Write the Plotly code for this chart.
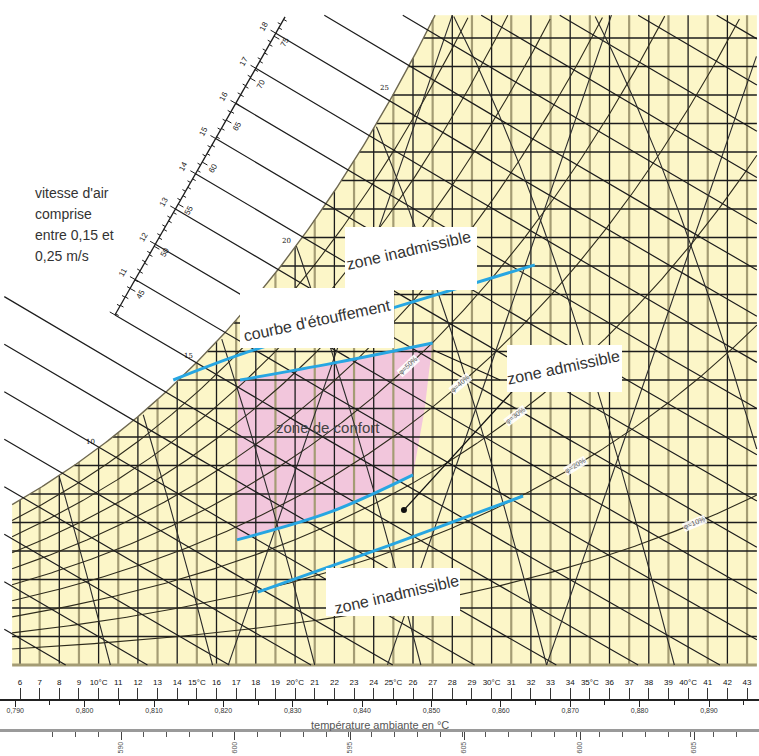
import numpy as np
import plotly.graph_objects as go

# ---------------- data ----------------
T_MIN, T_MAX, W_TOP = 5.6, 43.5, 22.8          # chart frame: °C, g/kg
X_RANGE = [4.982, 43.608]
Y_RANGE = [-3.193, 23.333]
W_PX, H_PX = 759, 756

temp_ticks = list(range(6, 44))
temp_labels = [f"{t}°C" if t % 5 == 0 else str(t) for t in temp_ticks]
volume_ticks = [0.79, 0.80, 0.81, 0.82, 0.83, 0.84, 0.85, 0.86, 0.87, 0.88, 0.89]
volume_labels = ["0,790", "0,800", "0,810", "0,820", "0,830", "0,840",
                 "0,850", "0,860", "0,870", "0,880", "0,890"]
row3_ticks = [11.14, 16.94, 22.8, 28.6, 34.5, 40.3]
row3_labels = ["590", "600", "595", "605", "600", "605"]

rh_levels = [0.1, 0.2, 0.3, 0.4, 0.5, 0.6, 0.7, 0.8, 0.9]
rh_label_levels = [0.5, 0.4, 0.3, 0.2, 0.1]
rh_label_temps = [25.75, 28.4, 31.2, 34.25, 40.35]
sat_label_temps = [10, 15, 20, 25]

enthalpy_kcal = list(range(2, 25))
scale_kj_labels = [45, 50, 55, 60, 65, 70, 75]
scale_kcal_labels = [11, 12, 13, 14, 15, 16, 17, 18]
scale_start = (10.83, 12.28)
scale_end = (19.49, 22.74)

steep_desc_end = [10.6, 15.8, 21.0, 26.4, 32.8, 39.3, 46.5]
steep_asc_top = [28.0, 36.1, 44.2]

etouff_T = [13.8, 17.45, 24.98, 32.2]
etouff_w = [10.0, 10.95, 12.53, 14.04]
conf_top_T = [17.2, 22.0, 27.0]
conf_top_w = [10.0, 10.6, 11.3]
conf_bot_T = [17.04, 21.8, 26.0]
conf_bot_w = [4.39, 5.37, 6.67]
lower_T = [18.1, 24.8, 31.6]
lower_w = [2.56, 4.2, 5.93]
zone_T = [17.1, 22.0, 27.0, 26.8, 26.6, 26.0, 21.8, 17.04]
zone_w = [10.0, 10.6, 11.3, 10.2, 9.0, 6.67, 5.37, 4.39]
dot_T, dot_w = 25.54, 5.44
pointer_a = [(25.54, 5.44), (31.68, 10.07)]
pointer_b = [(27.02, 11.05), (30.43, 10.0)]
speed_note = ["vitesse d'air", "comprise", "entre 0,15 et", "0,25 m/s"]

# ---------------- helpers ----------------
px_T = W_PX / (X_RANGE[1] - X_RANGE[0])
px_w = H_PX / (Y_RANGE[1] - Y_RANGE[0])


def ws(T):
    p = 6.112 * np.exp(17.62 * T / (243.12 + T))
    return 622 * p / (1013.25 - p)


def tdew(w):
    p = w * 1013.25 / (622 + w)
    ln = np.log(p / 6.112)
    return 243.12 * ln / (17.62 - ln)


def h_of(T, w):
    return 1.006 * T + w * (2.501 + 0.00186 * T)


def w_of_h(h, T):
    return (h - 1.006 * T) / (2.501 + 0.00186 * T)


def vol_T(v):
    return v * 101.325 / 0.287 - 273.15


def sat_top_T():
    Ts = np.linspace(20, 35, 3001)
    return float(Ts[np.argmin(np.abs(ws(Ts) - W_TOP))])


T_SAT_TOP = sat_top_T()


def seg_trace(xs, ys, color, width):
    return go.Scatter(x=xs, y=ys, mode="lines", line=dict(color=color, width=width),
                      hoverinfo="skip", showlegend=False)


def join(segments):
    xs, ys = [], []
    for sx, sy in segments:
        xs += list(sx) + [None]
        ys += list(sy) + [None]
    return xs, ys


def pT(px):
    return X_RANGE[0] + px / px_T


def pW(py):
    return Y_RANGE[1] - py / px_w


fig = go.Figure()

# yellow chart area
Tc = np.linspace(T_MIN, T_SAT_TOP, 200)
yx = list(Tc) + [T_MAX, T_MAX, T_MIN]
yy = list(ws(Tc)) + [W_TOP, 0, 0]
fig.add_trace(go.Scatter(x=yx, y=yy, fill="toself", fillcolor="#fcf6c8", mode="none",
                         hoverinfo="skip", showlegend=False))
# comfort zone
fig.add_trace(go.Scatter(x=zone_T, y=zone_w, fill="toself", fillcolor="#f2c6dc", mode="none",
                         hoverinfo="skip", showlegend=False))

# vertical dry-bulb lines
olive, black = [], []
for t in temp_ticks:
    seg = ([t, t], [0, min(ws(t), W_TOP)])
    (olive if t % 2 else black).append(seg)
fig.add_trace(seg_trace(*join(olive), "#a49c74", 2.2))
fig.add_trace(seg_trace(*join(black), "#1c1c1c", 1.3))

# horizontal humidity lines
hs = []
for w in range(1, 23):
    hs.append(([max(tdew(w), T_MIN), T_MAX], [w, w]))
fig.add_trace(seg_trace(*join(hs), "#1c1c1c", 1.3))
fig.add_trace(seg_trace([T_MIN, T_MAX], [0, 0], "#a49c74", 3))

# relative humidity curves
rh = []
for phi in rh_levels:
    T = np.linspace(T_MIN, T_MAX, 300)
    w = phi * ws(T)
    m = w <= W_TOP
    rh.append((T[m], w[m]))
fig.add_trace(seg_trace(*join(rh), "#2e2b1c", 1.1))
# saturation curve
fig.add_trace(seg_trace(Tc, ws(Tc), "#6e6850", 1.4))

# enthalpy lines (1 kcal/kg)
s_grid = np.linspace(0, 1, 2001)
sT = scale_start[0] + s_grid * (scale_end[0] - scale_start[0])
sW = scale_start[1] + s_grid * (scale_end[1] - scale_start[1])
sH = h_of(sT, sW)
en = []
for n in enthalpy_kcal:
    h = n * 4.1868
    if h < sH[0]:
        t0 = T_MIN - 0.4
    elif h > sH[-1]:
        t0 = (h - W_TOP * 2.501) / (1.006 + W_TOP * 0.00186)
    else:
        t0 = float(np.interp(h, sH, sT))
    t1 = min(T_MAX, h / 1.006)
    T = np.linspace(t0, t1, 60)
    en.append((T, w_of_h(h, T)))
fig.add_trace(seg_trace(*join(en), "#1c1c1c", 1.2))

# steep descending / ascending lines
st = []
for te in steep_desc_end:
    d = np.linspace(0, 16, 400)
    T = te - d
    w = 2.7 * d - 0.06 * d ** 2
    m = (T <= T_MAX) & (w <= np.minimum(ws(T), W_TOP)) & (T >= T_MIN)
    if m.any():
        st.append((T[m], w[m]))
for ta in steep_asc_top:
    d = np.linspace(0, 12, 300)
    T = ta - d
    w = W_TOP - 2.0 * d
    m = (T <= T_MAX) & (w >= 0) & (w <= ws(T))
    if m.any():
        st.append((T[m], w[m]))
fig.add_trace(seg_trace(*join(st), "#2a2a2a", 1.1))

# enthalpy scale
fig.add_trace(seg_trace([scale_start[0], scale_end[0]], [scale_start[1], scale_end[1]], "#1c1c1c", 1.3))
dx_s = (scale_end[0] - scale_start[0]) * px_T
dy_s = (scale_end[1] - scale_start[1]) * px_w
ln_s = np.hypot(dx_s, dy_s)
perp = (dy_s / ln_s, -dx_s / ln_s)


def off(T, w, L):
    return T + perp[0] * L / px_T, w + perp[1] * L / px_w


ticks = []
for h in range(42, 78):
    T0 = float(np.interp(h, sH, sT)); W0 = float(np.interp(h, sH, sW))
    L = 6 if h % 5 == 0 else 3.5
    T1, W1 = off(T0, W0, L)
    ticks.append(([T0, T1], [W0, W1]))
for k in np.arange(10.0, 18.6, 0.25):
    h = k * 4.1868
    if h < sH[0] or h > sH[-1]:
        continue
    T0 = float(np.interp(h, sH, sT)); W0 = float(np.interp(h, sH, sW))
    L = -6 if abs(k - round(k)) < 1e-6 else -3.5
    T1, W1 = off(T0, W0, L)
    ticks.append(([T0, T1], [W0, W1]))
fig.add_trace(seg_trace(*join(ticks), "#1c1c1c", 1))

FONT = "Liberation Sans, Arial, sans-serif"
ann = []
ang_s = -np.degrees(np.arctan2(dy_s, dx_s))
for v in scale_kj_labels:
    T0 = float(np.interp(v, sH, sT)); W0 = float(np.interp(v, sH, sW))
    T1, W1 = off(T0, W0, 12)
    ann.append(dict(x=T1, y=W1, text=str(v), showarrow=False, textangle=ang_s,
                    font=dict(size=8, color="#222", family=FONT)))
for v in scale_kcal_labels:
    h = v * 4.1868
    T0 = float(np.interp(h, sH, sT)); W0 = float(np.interp(h, sH, sW))
    T1, W1 = off(T0, W0, -14)
    ann.append(dict(x=T1, y=W1, text=str(v), showarrow=False, textangle=ang_s,
                    font=dict(size=8, color="#222", family=FONT)))

# blue limit curves
for xs_, ys_ in [(etouff_T, etouff_w), (conf_top_T, conf_top_w), (conf_bot_T, conf_bot_w), (lower_T, lower_w)]:
    fig.add_trace(go.Scatter(x=xs_, y=ys_, mode="lines", line=dict(color="#27a6e2", width=3, shape="spline"),
                             hoverinfo="skip", showlegend=False))

# pointers + dot
for p in (pointer_a, pointer_b):
    fig.add_trace(seg_trace([p[0][0], p[1][0]], [p[0][1], p[1][1]], "#111", 1.2))
fig.add_trace(go.Scatter(x=[dot_T], y=[dot_w], mode="markers", marker=dict(color="#111", size=6),
                         hoverinfo="skip", showlegend=False))

# RH labels
for phi, t in zip(rh_label_levels, rh_label_temps):
    slope = phi * (ws(t + 0.05) - ws(t - 0.05)) / 0.1 * px_w / px_T
    ann.append(dict(x=t, y=phi * ws(t), text=f"φ={int(phi*100)}%", showarrow=False,
                    textangle=-np.degrees(np.arctan(slope)), bgcolor="rgba(255,255,255,0.9)",
                    borderpad=0, font=dict(size=7, color="#555", family=FONT)))
# saturation labels
for t in sat_label_temps:
    ann.append(dict(x=t, y=ws(t), text=str(t), showarrow=False, xanchor="right", yanchor="bottom",
                    xshift=-2, font=dict(size=7, color="#111", family="DejaVu Serif")))

# white label boxes
boxes = [(345, 227, 477, 290), (240, 288, 394, 348), (507, 345, 622, 392), (326, 568, 460, 616)]
shapes = [dict(type="rect", xref="x", yref="y", x0=pT(a), x1=pT(c), y0=pW(d), y1=pW(b),
               fillcolor="white", line=dict(width=0), layer="above") for a, b, c, d in boxes]
texts = [("zone inadmissible", 408, 250, -13, 16), ("courbe d'étouffement", 317, 320, -12, 16),
         ("zone admissible", 563, 367, -12, 16), ("zone inadmissible", 396, 594, -13, 16)]
for t, x, y, a, s in texts:
    ann.append(dict(x=pT(x), y=pW(y), text=t, showarrow=False, textangle=a,
                    font=dict(size=s, color="#333", family=FONT)))
ann.append(dict(x=pT(328), y=pW(427), text="zone de confort", showarrow=False,
                font=dict(size=15, color="#444", family=FONT)))
for i, line in enumerate(speed_note):
    ann.append(dict(x=pT(33), y=pW(193 + 21 * i), text=line, showarrow=False, xanchor="left",
                    font=dict(size=14, color="#333", family=FONT)))
ann.append(dict(x=0.5, y=1 - 723 / H_PX, xref="paper", yref="paper", yanchor="middle",
                yshift=-2, text="température ambiante en °C",
                showarrow=False, font=dict(size=11, color="#555", family=FONT)))

minor_vol = [round(v + 0.005, 3) for v in volume_ticks]
fig.update_layout(
    width=W_PX, height=H_PX, margin=dict(l=0, r=0, t=0, b=0, autoexpand=False), autosize=False,
    paper_bgcolor="white", plot_bgcolor="white", showlegend=False,
    annotations=ann, shapes=shapes,
    xaxis=dict(range=X_RANGE, showgrid=False, zeroline=False, anchor="free", automargin=False,
               position=1 - 700 / H_PX, side="top", ticks="outside", ticklen=11, tickwidth=1,
               tickcolor="#333", tickvals=temp_ticks, ticktext=temp_labels,
               tickfont=dict(size=8, color="#111", family=FONT), showline=True,
               linecolor="#222", linewidth=1.5),
    xaxis2=dict(range=X_RANGE, overlaying="x", showgrid=False, zeroline=False, anchor="free",
                automargin=False, position=1 - 700 / H_PX, side="bottom", ticks="outside",
                ticklen=6, tickwidth=1.2, ticklabelstandoff=-2,
                tickcolor="#222", tickvals=[vol_T(v) for v in volume_ticks], ticktext=volume_labels,
                tickfont=dict(size=7, color="#333", family=FONT), showline=False,
                minor=dict(tickmode="array", tickvals=[vol_T(v) for v in minor_vol],
                           ticks="outside", ticklen=4, tickcolor="#222")),
    xaxis3=dict(range=X_RANGE, overlaying="x", showgrid=False, zeroline=False, anchor="free",
                automargin=False, position=1 - 730 / H_PX, side="bottom", ticks="outside",
                ticklen=8, tickwidth=1, ticklabelstandoff=-1,
                tickcolor="#444", tickvals=row3_ticks, ticktext=row3_labels, tickangle=-90,
                tickfont=dict(size=7, color="#555", family=FONT), showline=True,
                linecolor="#9a9a9a", linewidth=3,
                minor=dict(tickmode="array",
                           tickvals=[row3_ticks[0] - 3 * 1.16 + 1.16 * i for i in range(40)],
                           ticks="outside", ticklen=5, tickcolor="#555")),
    yaxis=dict(range=Y_RANGE, visible=False, automargin=False),
)
fig.add_trace(go.Scatter(x=[None], y=[None], xaxis="x2", showlegend=False))
fig.add_trace(go.Scatter(x=[None], y=[None], xaxis="x3", showlegend=False))

fig.write_html("out.html", config={"displayModeBar": False},
               post_script="document.body.style.margin='0';document.body.style.padding='0';")
